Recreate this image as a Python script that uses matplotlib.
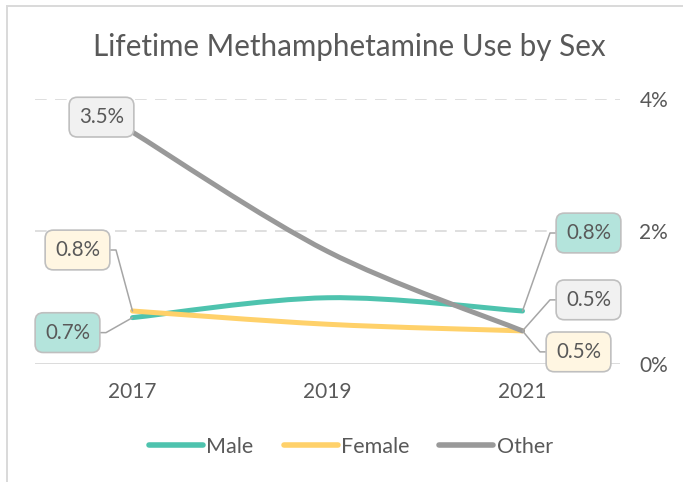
import matplotlib
matplotlib.use("Agg")
import matplotlib.pyplot as plt
from matplotlib.path import Path
from matplotlib.patches import PathPatch, Rectangle
from matplotlib.lines import Line2D
import numpy as np

years = ["2017", "2019", "2021"]
male = [0.7, 1.0, 0.8]
female = [0.8, 0.6, 0.5]
other = [3.5, 1.7, 0.5]
series_names = ["Male", "Female", "Other"]
colors = ["#4EC3AE", "#FFD16A", "#999999"]
box_fills = ["#B4E4DC", "#FFF6E2", "#F1F1F1"]
yticks = [0, 2, 4]
ytick_labels = ["0%", "2%", "4%"]

FONT = "Lato"
TXT = "#595959"
LBL = 14.8

fig = plt.figure(figsize=(6.83, 4.82), dpi=100)
W, H = 683, 482
ax = fig.add_axes([35 / W, 1 - 364 / H, (620 - 35) / W, (364 - 99) / H])

# outer chart border (extends beyond the right and bottom edges)
fig.patches.append(Rectangle((6.5 / W, -0.2), 1.2, 1.2 - 5.5 / H, transform=fig.transFigure,
                             fill=False, edgecolor="#D9D9D9", lw=1.4))

x = np.arange(len(years))


def smooth_path(xs, ys):
    pts = np.column_stack([xs, ys]).astype(float)
    n = len(pts)
    verts = [pts[0]]
    codes = [Path.MOVETO]
    for i in range(n - 1):
        p0 = pts[i - 1] if i > 0 else pts[i]
        p1 = pts[i]
        p2 = pts[i + 1]
        p3 = pts[i + 2] if i + 2 < n else pts[i + 1]
        c1 = p1 + (p2 - p0) / 6.0
        c2 = p2 - (p3 - p1) / 6.0
        verts += [c1, c2, p2]
        codes += [Path.CURVE4] * 3
    return Path(verts, codes)


for vals, c in zip([male, female, other], colors):
    pp = PathPatch(smooth_path(x, vals), fill=False, edgecolor=c, lw=3.6,
                   capstyle="round", joinstyle="round", zorder=3)
    ax.add_patch(pp)

ax.set_xlim(-0.5, 2.5)
ax.set_ylim(0, 4)

for yv in yticks[1:]:
    ax.axhline(yv, color="#D9D9D9", lw=1.2, ls=(0, (7, 5)), zorder=1)
ax.axhline(0, color="#D9D9D9", lw=1.3, zorder=1)

for s in ax.spines.values():
    s.set_visible(False)
ax.yaxis.tick_right()
ax.set_yticks(yticks)
ax.set_yticklabels(ytick_labels)
ax.set_xticks(x)
ax.set_xticklabels(years)
ax.tick_params(axis="both", length=0, colors=TXT, labelsize=15)
ax.tick_params(axis="y", pad=14)
ax.tick_params(axis="x", pad=13)
for lab in ax.get_xticklabels() + ax.get_yticklabels():
    lab.set_fontfamily(FONT)
    lab.set_color(TXT)

fig.text(349 / W, 1 - 47 / H, "Lifetime Methamphetamine Use by Sex", ha="center", va="center",
         fontsize=21.3, color=TXT, family=FONT)

# data labels (offsets in pixels), leader arm direction
labels = [
    (0, 2, other, -31, 15, None),
    (0, 1, female, -55, 61, "L"),
    (0, 0, male, -65, -15, "L"),
    (2, 0, male, 66, 78, "R"),
    (2, 2, other, 66, 31, "R"),
    (2, 1, female, 56, -21, "R"),
]
for xi, si, vals, dx, dy, side in labels:
    txt = f"{vals[xi]:.1f}%"
    bbox = dict(boxstyle="round,pad=0.48,rounding_size=0.4", fc=box_fills[si], ec="#BFBFBF", lw=1.2)
    if side is None:
        ax.annotate(txt, (x[xi], vals[xi]), xytext=(dx, dy), textcoords="offset pixels",
                    ha="center", va="center", fontsize=LBL, color=TXT, family=FONT,
                    bbox=bbox, zorder=5)
    else:
        angA = 0 if side == "L" else 180
        rel = (1, 0.5) if side == "L" else (0, 0.5)
        ax.annotate(txt, (x[xi], vals[xi]), xytext=(dx, dy), textcoords="offset pixels",
                    ha="center", va="center", fontsize=LBL, color=TXT, family=FONT,
                    bbox=bbox, zorder=5,
                    arrowprops=dict(arrowstyle="-", color="#A6A6A6", lw=1.1, shrinkA=0, shrinkB=0,
                                    relpos=rel,
                                    connectionstyle=f"arc,angleA={angA},armA=16,angleB=0,armB=0,rad=0"))

handles = [Line2D([0], [0], color=c, lw=4, solid_capstyle="round") for c in colors]
leg = fig.legend(handles, series_names, loc="center", bbox_to_anchor=(351 / W, 1 - 447 / H),
                 ncol=3, frameon=False, handlelength=2.5, handletextpad=0.15, columnspacing=1.4,
                 prop={"family": FONT, "size": 15.5})
for t in leg.get_texts():
    t.set_color(TXT)

fig.savefig("out.png", dpi=100)
